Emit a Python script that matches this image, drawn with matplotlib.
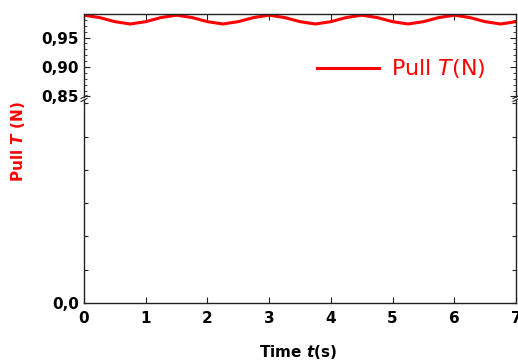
import matplotlib.pyplot as plt
from matplotlib.ticker import MultipleLocator

# pull on the string, every 0.25 s
time_s = [0.0, 0.25, 0.5, 0.75, 1.0, 1.25, 1.5, 1.75, 2.0, 2.25,
          2.5, 2.75, 3.0, 3.25, 3.5, 3.75, 4.0, 4.25, 4.5, 4.75,
          5.0, 5.25, 5.5, 5.75, 6.0, 6.25, 6.5, 6.75, 7.0]
pull_n = [0.988, 0.984, 0.977, 0.973, 0.977, 0.984, 0.988, 0.984, 0.977, 0.973,
          0.977, 0.984, 0.988, 0.984, 0.977, 0.973, 0.977, 0.984, 0.988, 0.984,
          0.977, 0.973, 0.977, 0.984, 0.988, 0.984, 0.977, 0.973, 0.977]

x_ticks = [0, 1, 2, 3, 4, 5, 6, 7]
upper_ticks = [0.85, 0.90, 0.95]
upper_labels = ["0,85", "0,90", "0,95"]
lower_ticks = [0.0, 0.1, 0.2, 0.3, 0.4, 0.5, 0.6]
lower_labels = ["0,0", "", "", "", "", "", ""]

red = "#ff0000"
fig = plt.figure(figsize=(5.18, 3.62), dpi=100)

left, width = 84 / 518, 432 / 518
ax_top = fig.add_axes([left, 1 - 97 / 362, width, 83 / 362])
ax_bot = fig.add_axes([left, 1 - 303 / 362, width, 203 / 362])

for ax in (ax_top, ax_bot):
    ax.plot(time_s, pull_n, color=red, lw=2.2, label="Pull $\\mathit{T}$(N)")
    ax.set_xlim(0, 7)
    for sp in ax.spines.values():
        sp.set_color("#222222")
        sp.set_linewidth(1.0)
    ax.tick_params(which="both", direction="in", right=True, top=True,
                   colors="#222222", labelcolor="black", labelsize=11)
    ax.tick_params(which="major", length=4)
    ax.tick_params(which="minor", length=2)
    ax.set_xticks(x_ticks)

ax_top.set_ylim(0.849, 0.990)
ax_top.set_yticks(upper_ticks)
ax_top.set_yticklabels(upper_labels, fontweight="bold")
ax_top.yaxis.set_minor_locator(MultipleLocator(0.01))
ax_top.spines["bottom"].set_visible(False)
ax_top.tick_params(axis="x", bottom=False, labelbottom=False)

ax_bot.set_ylim(0, 0.61)
ax_bot.set_yticks(lower_ticks)
ax_bot.set_yticklabels(lower_labels, fontweight="bold")
ax_bot.spines["top"].set_visible(False)
ax_bot.tick_params(axis="x", top=False, pad=6)
ax_bot.tick_params(axis="y", length=3)
for lab in ax_bot.get_xticklabels():
    lab.set_fontweight("bold")

# break marks on both sides
for xb in (left, left + width):
    for yb in (97 / 362, 100 / 362):
        fig.add_artist(plt.Line2D([xb - 3 / 518, xb + 3 / 518],
                                  [1 - yb - 1.5 / 362, 1 - yb + 1.5 / 362],
                                  color="#222222", lw=0.8))

ax_top.legend(loc="center left", bbox_to_anchor=(317 / 518, 1 - 69 / 362),
              bbox_transform=fig.transFigure, frameon=False, fontsize=16,
              labelcolor=red, handlelength=2.8, handletextpad=0.55,
              borderpad=0, borderaxespad=0)

fig.text(18 / 518, 1 - 142 / 362, "Pull $\\mathbfit{T}$ (N)", rotation=90,
         color=red, fontsize=11, fontweight="bold", ha="center", va="center")
fig.text(298 / 518, 1 - 352 / 362, "Time $\\mathbfit{t}$(s)",
         color="black", fontsize=11, fontweight="bold", ha="center", va="center")

fig.savefig("out.png", dpi=100)
